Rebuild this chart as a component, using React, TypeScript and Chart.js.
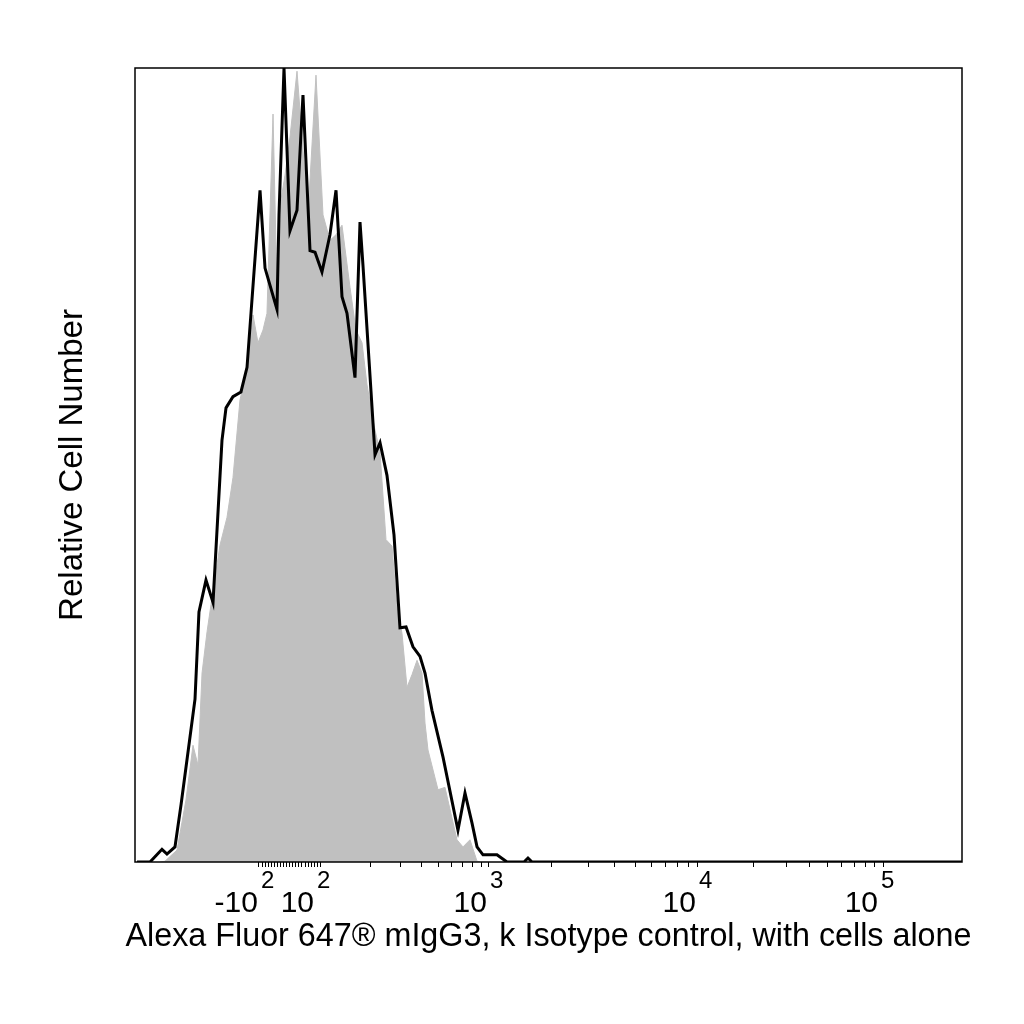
import { useEffect, useRef } from "react"
import Chart from "chart.js/auto"

// x positions are display channels (0-1024 across the plot), y is relative count (% of max)
const stainedChannel = [
  2.5, 18.6, 33.4, 39.6, 49.5, 57.0, 74.3, 79.2, 87.9, 96.6, 107.7, 112.7, 121.3, 131.2, 138.7,
  154.8, 161.0, 175.8, 178.3, 184.5, 191.9, 200.6, 208.0, 216.7, 222.9, 231.5, 241.4, 248.9,
  256.3, 262.5, 272.4, 278.6, 282.3, 289.7, 297.2, 303.4, 312.0, 320.7, 328.1, 335.6, 344.2,
  352.9, 359.1, 367.7, 381.4, 399.9, 408.6, 417.3, 423.5, 430.9, 448.2, 460.6, 481.7, 486.6,
  491.6, 1024,
]
const stainedCount = [
  0, 0, 1.6, 1.0, 1.9, 7.2, 20.5, 31.5, 35.5, 32.7, 53.1, 57.2, 58.6, 59.2, 62.3,
  84.6, 74.8, 69.6, 81.5, 100, 79.5, 82.1, 96.6, 77.0, 76.8, 74.3, 79.0, 84.6,
  71.2, 69.1, 61.0, 80.6, 75.1, 63.3, 51.3, 52.8, 48.7, 41.2, 29.5, 29.6, 27.1,
  25.9, 23.8, 19.1, 13.2, 4.0, 8.7, 4.9, 1.9, 0.9, 0.9, 0, 0, 0.5,
  0, 0,
]

const controlChannel = [
  31.0, 37.1, 52.0, 63.1, 71.8, 78.0, 83.0, 89.2, 94.1, 105.2, 113.9, 121.3, 130.0, 138.7,
  146.1, 152.3, 158.5, 163.4, 170.9, 175.8, 180.8, 185.7, 191.9, 200.6, 208.0, 214.2, 224.1,
  232.8, 241.4, 248.9, 256.3, 266.2, 273.6, 281.1, 287.3, 295.9, 303.4, 310.8, 318.2, 324.4,
  330.6, 336.8, 343.0, 349.2, 355.4, 359.1, 362.8, 375.2, 383.8, 398.7, 406.1, 414.8, 423.5,
  427.2,
]
const controlCount = [
  0, 0.1, 1.5, 7.8, 14.7, 12.2, 23.8, 29.0, 32.4, 39.9, 43.4, 48.4, 58.2, 62.1,
  68.9, 65.4, 67.0, 69.1, 94.2, 72.0, 83.4, 86.5, 91.3, 99.6, 89.7, 81.5, 99.1,
  81.5, 78.3, 79.0, 80.2, 72.4, 67.0, 65.4, 60.1, 55.0, 51.6, 40.6, 39.8, 32.1,
  28.8, 22.0, 23.6, 25.4, 23.8, 17.5, 14.1, 9.1, 9.4, 2.8, 1.9, 2.8, 0.1,
  0,
]

// decade ticks of the biexponential axis: value and display channel
const majorValues = [-100, 0, 100, 1000, 10000, 100000]
const majorChannels = [153.5, 191.9, 229.1, 438.3, 697.1, 926.2]
const labelBase = ["-10", "", "10", "10", "10", "10"]
const labelExp = ["2", "", "2", "3", "4", "5"]
const labelShift = [-1, 0, -6, -2, -2, -5]

const xTitle = "Alexa Fluor 647® mIgG3, k Isotype control, with cells alone"
const yTitle = "Relative Cell Number"

const FONT = '"Liberation Sans", Arial, sans-serif'

// minor ticks: linear around zero, log inside each decade
function buildTickChannels() {
  const out: number[] = [...majorChannels]
  for (let k = 1; k < 10; k++) {
    out.push(majorChannels[0] + (majorChannels[1] - majorChannels[0]) * (k / 10))
    out.push(majorChannels[1] + (majorChannels[2] - majorChannels[1]) * (k / 10))
  }
  for (let d = 2; d < majorChannels.length - 1; d++) {
    const a = majorChannels[d]
    const b = majorChannels[d + 1]
    for (let m = 2; m < 10; m++) out.push(a + Math.log10(m) * (b - a))
  }
  return out.sort((p, q) => p - q)
}

const frame = {
  id: "frame",
  afterDraw(chart: any) {
    const { ctx, chartArea, scales } = chart
    const x = scales.x
    ctx.save()
    ctx.strokeStyle = "#000"
    ctx.lineWidth = 1.5
    ctx.strokeRect(chartArea.left, chartArea.top, chartArea.right - chartArea.left, chartArea.bottom - chartArea.top)

    ctx.fillStyle = "#000"
    ctx.textBaseline = "alphabetic"
    majorChannels.forEach((ch, i) => {
      if (!labelBase[i]) return
      const px = x.getPixelForValue(ch) + labelShift[i]
      ctx.font = `30px ${FONT}`
      ctx.textAlign = "right"
      ctx.fillText(labelBase[i], px, 912)
      ctx.font = `24px ${FONT}`
      ctx.textAlign = "left"
      ctx.fillText(labelExp[i], px + 3, 888)
    })

    ctx.font = `32.3px ${FONT}`
    ctx.textAlign = "center"
    ctx.fillText(xTitle, (chartArea.left + chartArea.right) / 2, 946)

    ctx.translate(82, 465)
    ctx.rotate(-Math.PI / 2)
    ctx.font = `33px ${FONT}`
    ctx.fillText(yTitle, 0, 0)
    ctx.restore()
  },
}

function Histogram() {
  const chartRef = useRef<HTMLCanvasElement | null>(null)
  const chartInstance = useRef<Chart | null>(null)

  useEffect(() => {
    if (!chartRef.current) return
    if (chartInstance.current) chartInstance.current.destroy()

    const tickChannels = buildTickChannels()

    chartInstance.current = new Chart(chartRef.current, {
      type: "line",
      data: {
        datasets: [
          {
            label: "mIgG3 isotype",
            data: stainedChannel.map((c, i) => ({ x: c, y: stainedCount[i] })),
            borderColor: "#000",
            borderWidth: 3,
            pointRadius: 0,
            tension: 0,
            fill: false,
            order: 0,
          },
          {
            label: "cells alone",
            data: controlChannel.map((c, i) => ({ x: c, y: controlCount[i] })),
            borderColor: "#c0c0c0",
            backgroundColor: "#c0c0c0",
            borderWidth: 1,
            pointRadius: 0,
            tension: 0,
            fill: "origin",
            order: 1,
          },
        ],
      },
      options: {
        animation: false,
        responsive: true,
        maintainAspectRatio: false,
        layout: { padding: { left: 135, top: 68, right: 62, bottom: 0 } },
        plugins: {
          legend: { display: false },
          tooltip: { enabled: false },
        },
        scales: {
          x: {
            type: "linear",
            min: 0,
            max: 1024,
            afterBuildTicks: (axis: any) => {
              axis.ticks = tickChannels.map((v) => ({ value: v }))
            },
            afterFit: (axis: any) => {
              axis.height = 162
            },
            ticks: { display: false },
            grid: {
              drawOnChartArea: false,
              drawTicks: true,
              tickLength: 5,
              color: "#000",
              lineWidth: 1,
            },
            border: { display: false },
          },
          y: {
            display: false,
            min: 0,
            max: 100,
          },
        },
      },
      plugins: [frame],
    })

    return () => {
      if (chartInstance.current) {
        chartInstance.current.destroy()
        chartInstance.current = null
      }
    }
  }, [])

  return <canvas ref={chartRef} />
}

export default function App() {
  return (
    <div style={{ position: "absolute", left: 0, top: 0, width: 1024, height: 1024, background: "#fff" }}>
      <Histogram />
    </div>
  )
}
